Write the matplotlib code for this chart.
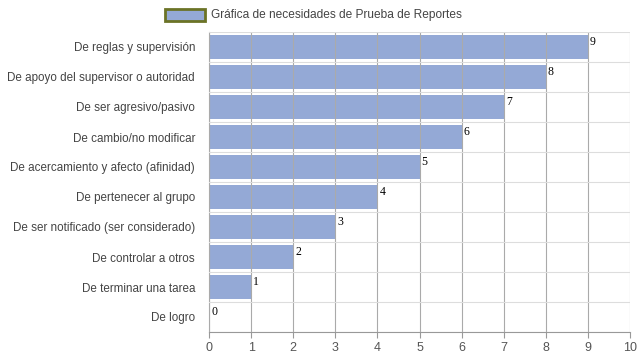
import matplotlib
matplotlib.use("Agg")
import matplotlib.pyplot as plt
from matplotlib.patches import Rectangle
import numpy as np

categories = ["De reglas y supervisión", "De apoyo del supervisor o autoridad",
              "De ser agresivo/pasivo", "De cambio/no modificar",
              "De acercamiento y afecto (afinidad)", "De pertenecer al grupo",
              "De ser notificado (ser considerado)", "De controlar a otros",
              "De terminar una tarea", "De logro"]
values = [9, 8, 7, 6, 5, 4, 3, 2, 1, 0]
series_name = "Gráfica de necesidades de Prueba de Reportes"
xticks = list(range(0, 11))

plt.rcParams['font.family'] = ['Liberation Sans', 'DejaVu Sans']
fig = plt.figure(figsize=(6.39, 3.6), dpi=100)
ax = fig.add_axes([209/639, 1-332/360, (630-209)/639, 300/360])

y = np.arange(len(categories))
bar_color = '#94a9d6'
ax.barh(y, values, height=0.8, color=bar_color, zorder=1)
for yi, v in zip(y, values):
    ax.text(v + 0.05, yi - 0.38, str(v), family='Liberation Serif', fontsize=8.5,
            color='black', ha='left', va='top', zorder=3)

ax.set_xlim(0, 10)
ax.set_ylim(len(categories) - 0.5, -0.5)
ax.set_xticks(xticks)
ax.set_xticklabels([str(t) for t in xticks], color='#555555', fontsize=9)
ax.set_yticks(y)
ax.set_yticklabels(categories, color='#444444', fontsize=8.4)
ax.set_yticks(np.arange(-0.5, len(categories), 1), minor=True)
ax.tick_params(axis='y', which='major', length=0, pad=10)
ax.tick_params(axis='y', which='minor', length=0)
ax.tick_params(axis='x', length=4, color='#999999', pad=3)
ax.grid(axis='x', which='major', color='#aaaaaa', linewidth=0.8, zorder=2)
ax.grid(axis='y', which='minor', color='#dddddd', linewidth=0.8, zorder=0)
ax.set_axisbelow(False)
for s in ['top', 'right']:
    ax.spines[s].set_visible(False)
ax.spines['left'].set_color('#aaaaaa')
ax.spines['bottom'].set_color('#999999')
ax.spines['left'].set_zorder(2)

# legend
fig.patches.append(Rectangle((165/639, 1-21/360), 40/639, 12/360, transform=fig.transFigure,
                             facecolor=bar_color, edgecolor='#6b7326', linewidth=2))
fig.text(211/639, 1-15/360, series_name, ha='left', va='center', fontsize=8.6, color='#444444')

fig.savefig('out.png', dpi=100)
